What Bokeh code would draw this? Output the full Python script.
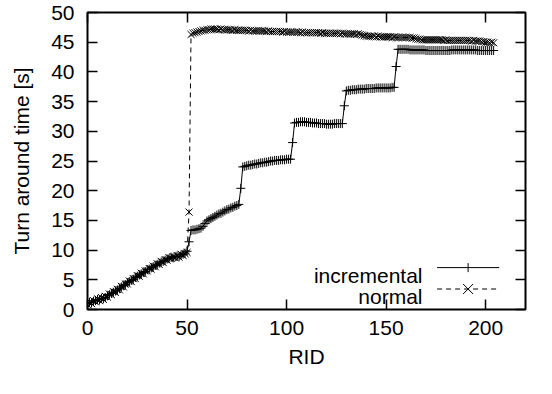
from bokeh.plotting import figure
from bokeh.models import LinearAxis, FixedTicker, Label, Arrow, Range1d
from bokeh.embed import file_html
from bokeh.resources import INLINE

FONT = "Liberation Sans"

# ---- data ----
incremental = [
    # RID 0-50
    1.0, 1.2, 1.1, 1.4, 1.5, 1.7, 1.6, 1.9, 1.8, 2.0,
    2.3, 2.5, 2.7, 2.9, 3.1, 3.3, 3.5, 3.8, 4.0, 4.2,
    4.5, 4.7, 4.9, 5.1, 5.4, 5.6, 5.8, 6.0, 6.2, 6.4,
    6.7, 6.8, 7.0, 7.2, 7.4, 7.6, 7.8, 8.0, 8.1, 8.3,
    8.5, 8.6, 8.8, 8.7, 8.9, 9.0, 8.9, 9.2, 9.3, 9.5, 9.8,
    # 51
    11.4,
    # 52-76
    13.3, 13.4, 13.4, 13.5, 13.6, 13.7, 14.0, 14.5, 14.9, 15.1,
    15.3, 15.5, 15.7, 15.9, 16.1, 16.2, 16.4, 16.6, 16.8, 16.9,
    17.1, 17.2, 17.4, 17.5, 17.7,
    # 77
    20.4,
    # 78-102
    24.0, 24.1, 24.2, 24.3, 24.3, 24.4, 24.5, 24.5, 24.6, 24.7,
    24.7, 24.8, 24.8, 24.9, 25.0, 25.0, 25.1, 25.1, 25.1, 25.2,
    25.2, 25.2, 25.3, 25.3, 25.3,
    # 103
    28.1,
    # 104-128
    31.4, 31.5, 31.5, 31.6, 31.6, 31.6, 31.5, 31.5, 31.5, 31.4,
    31.4, 31.4, 31.3, 31.3, 31.3, 31.3, 31.2, 31.2, 31.2, 31.2,
    31.3, 31.3, 31.3, 31.3, 31.3,
    # 129
    34.3,
    # 130-154
    36.8, 36.9, 36.9, 37.0, 37.0, 37.0, 37.1, 37.1, 37.1, 37.1,
    37.2, 37.2, 37.2, 37.2, 37.2, 37.3, 37.3, 37.3, 37.3, 37.3,
    37.3, 37.3, 37.3, 37.4, 37.4,
    # 155
    40.9,
    # 156-204
    43.8, 43.8, 43.8, 43.8, 43.8, 43.8, 43.7, 43.7, 43.7, 43.7,
    43.7, 43.7, 43.7, 43.7, 43.6, 43.6, 43.6, 43.6, 43.6, 43.6,
    43.6, 43.6, 43.6, 43.6, 43.6, 43.6, 43.6, 43.7, 43.7, 43.7,
    43.7, 43.7, 43.7, 43.7, 43.7, 43.7, 43.7, 43.7, 43.7, 43.7,
    43.6, 43.6, 43.6, 43.6, 43.6, 43.6, 43.6, 43.6, 43.6,
]

normal = [
    # RID 0-50
    0.8, 1.3, 1.0, 1.5, 1.3, 1.8, 1.5, 2.0, 1.7, 2.2,
    2.1, 2.6, 2.5, 3.0, 2.9, 3.4, 3.3, 3.9, 3.8, 4.3,
    4.3, 4.8, 4.7, 5.2, 5.2, 5.7, 5.6, 6.1, 6.0, 6.5,
    6.5, 6.9, 6.8, 7.3, 7.2, 7.7, 7.6, 8.1, 7.9, 8.4,
    8.3, 8.7, 8.6, 8.9, 8.7, 9.1, 8.8, 9.3, 9.1, 9.4, 9.6,
    # 51
    16.4,
    # 52-204
    46.3, 46.5, 46.6, 46.7, 46.8, 46.9, 47.0, 47.0, 47.1, 47.1,
    47.2, 47.2, 47.2, 47.2, 47.1, 47.2, 47.1, 47.1, 47.1, 47.1,
    47.1, 47.0, 47.1, 47.0, 47.0, 47.0, 47.0, 47.0, 47.0, 46.9,
    47.0, 46.9, 46.9, 46.9, 46.9, 46.9, 46.9, 46.9, 46.8, 46.9,
    46.8, 46.8, 46.8, 46.8, 46.8, 46.8, 46.7, 46.8, 46.7, 46.7,
    46.7, 46.7, 46.7, 46.7, 46.7, 46.6, 46.7, 46.6, 46.6, 46.6,
    46.6, 46.6, 46.6, 46.6, 46.6, 46.5, 46.6, 46.5, 46.5, 46.5,
    46.5, 46.5, 46.5, 46.5, 46.5, 46.4, 46.5, 46.4, 46.4, 46.4,
    46.4, 46.4, 46.4, 46.3, 46.4, 46.3, 46.2, 46.1, 46.0, 46.0,
    46.0, 46.0, 46.0, 45.9, 46.0, 45.9, 45.9, 45.9, 45.9, 45.9,
    45.9, 45.8, 45.9, 45.8, 45.8, 45.8, 45.8, 45.8, 45.8, 45.8,
    45.8, 45.7, 45.7, 45.6, 45.5, 45.5, 45.4, 45.4, 45.4, 45.4,
    45.4, 45.4, 45.4, 45.4, 45.4, 45.4, 45.4, 45.3, 45.4, 45.3,
    45.3, 45.3, 45.3, 45.3, 45.3, 45.3, 45.3, 45.3, 45.3, 45.3,
    45.3, 45.2, 45.3, 45.2, 45.2, 45.2, 45.1, 45.1, 45.0, 45.0,
    44.9, 45.0, 44.9,
]

rid_inc = list(range(len(incremental)))
rid_nor = list(range(len(normal)))

x_ticks = [0, 50, 100, 150, 200]
y_ticks = [0, 5, 10, 15, 20, 25, 30, 35, 40, 45, 50]
x_label = "RID"
y_label = "Turn around time [s]"
series_names = ["incremental", "normal"]

FS = "21px"

# ---- figure ----
p = figure(width=536, height=378, output_backend="svg", toolbar_location=None,
           x_range=Range1d(0, 220), y_range=Range1d(0, 50),
           min_border_left=87, min_border_right=11, min_border_top=12,
           min_border_bottom=69)
p.xgrid.visible = False
p.ygrid.visible = False
p.outline_line_color = "black"
p.outline_line_width = 2
p.background_fill_color = "white"
p.border_fill_color = "white"


def style_axis(ax, ticks, show_labels=True):
    ax.ticker = FixedTicker(ticks=ticks)
    ax.axis_line_color = None
    ax.major_tick_in = 10
    ax.major_tick_out = 0
    ax.major_tick_line_width = 1.5
    ax.major_tick_line_color = "black"
    ax.minor_tick_line_color = None
    if show_labels:
        ax.major_label_text_font = FONT
        ax.major_label_text_font_size = FS
        ax.major_label_text_color = "black"
        ax.axis_label_text_font = FONT
        ax.axis_label_text_font_size = FS
        ax.axis_label_text_font_style = "normal"
        ax.axis_label_text_color = "black"
    else:
        # mirrored ticks only (gnuplot style), no labels
        ax.major_label_overrides = {t: "" for t in ticks}
        ax.major_label_text_font_size = "9px"
        ax.major_label_standoff = 0


xa = p.xaxis[0]
style_axis(xa, x_ticks)
xa.axis_label = x_label
xa.major_label_standoff = 11
xa.axis_label_standoff = 7

ya = p.yaxis[0]
style_axis(ya, y_ticks)
ya.axis_label = y_label
ya.major_label_standoff = 13
ya.axis_label_standoff = 15

top = LinearAxis()
style_axis(top, x_ticks, show_labels=False)
p.add_layout(top, "above")
right = LinearAxis()
style_axis(right, y_ticks, show_labels=False)
p.add_layout(right, "right")

# ---- series ----
p.line(rid_inc, incremental, line_color="black", line_width=1)
p.scatter(rid_inc, incremental, marker="cross", size=9, line_color="black",
          line_width=1)
p.line(rid_nor, normal, line_color="black", line_width=1, line_dash="5 4")
p.scatter(rid_nor, normal, marker="x", size=10, line_color="black",
          line_width=1)

# ---- gnuplot-style key (label left, sample right), screen units ----
for name, ty in [(series_names[0], 34.0), (series_names[1], 13.1)]:
    p.add_layout(Label(x=335, y=ty, x_units="screen", y_units="screen",
                       text=name, text_align="right", text_baseline="alphabetic",
                       text_font=FONT, text_font_size=FS, text_color="black"))

sx0, sx1, sxc = 349.6, 411.7, 380.6
y_inc, y_nor = 41.9, 20.5


def seg(x0, y0, x1, y1, dash="solid"):
    p.add_layout(Arrow(end=None, x_start=x0, y_start=y0, x_end=x1, y_end=y1,
                       start_units="screen", end_units="screen",
                       line_color="black", line_width=1, line_dash=dash))


seg(sx0, y_inc, sx1, y_inc)
seg(sxc, y_inc - 4.5, sxc, y_inc + 4.5)
seg(sx0, y_nor, sx1, y_nor, "5 4")
seg(sxc - 5, y_nor - 5, sxc + 5, y_nor + 5)
seg(sxc - 5, y_nor + 5, sxc + 5, y_nor - 5)

open("out.html", "w").write(file_html(p, INLINE))
